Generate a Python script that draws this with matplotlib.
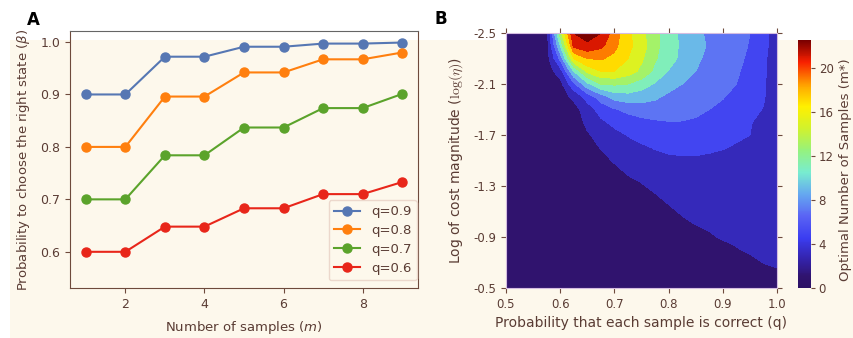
import numpy as np
import matplotlib.pyplot as plt
from matplotlib.colors import LinearSegmentedColormap, Normalize
from matplotlib.cm import ScalarMappable
from matplotlib.patches import Rectangle

plt.rcParams['font.family'] = 'DejaVu Sans'
plt.rcParams['axes.unicode_minus'] = False

TXT = '#5a3c34'
SPINE = '#6e4a3c'
CREAM = '#fdf8ec'

# ---- panel A data ----
samples = [1, 2, 3, 4, 5, 6, 7, 8, 9]
beta_q09 = [0.900, 0.900, 0.972, 0.972, 0.991, 0.991, 0.997, 0.997, 0.999]
beta_q08 = [0.800, 0.800, 0.896, 0.896, 0.942, 0.942, 0.967, 0.967, 0.980]
beta_q07 = [0.700, 0.700, 0.784, 0.784, 0.837, 0.837, 0.874, 0.874, 0.901]
beta_q06 = [0.600, 0.600, 0.648, 0.648, 0.683, 0.683, 0.710, 0.710, 0.733]
series_labels = ['q=0.9', 'q=0.8', 'q=0.7', 'q=0.6']
series_colors = ['#5677b3', '#ff7f0e', '#5ba32b', '#e8261a']

# ---- panel B data (optimal number of samples) ----
q_vals = [0.5, 0.525, 0.55, 0.575, 0.6, 0.625, 0.65, 0.675, 0.7, 0.725, 0.75,
          0.775, 0.8, 0.825, 0.85, 0.875, 0.9, 0.925, 0.95, 0.975, 1.0]
log_eta = [-2.5, -2.4, -2.3, -2.2, -2.1, -2.0, -1.9, -1.8, -1.7, -1.6, -1.5,
           -1.4, -1.3, -1.2, -1.1, -1.0, -0.9, -0.8, -0.7, -0.6, -0.5]
m_opt = [
    [1, 1, 1, 1, 13, 22, 23, 22, 19, 16.5, 14.5, 12.5, 11, 9.5, 8.5, 7.6, 6.8, 6.4, 6.0, 4.8, 2.5],
    [1, 1, 1, 1, 10, 20.5, 21.5, 20.5, 18.5, 16.5, 15, 12.5, 11, 9.6, 8.6, 7.8, 7, 6.5, 5.9, 4.8, 2.5],
    [1, 1, 1, 1, 6.5, 16, 18, 18.2, 17.5, 16, 14.3, 12.2, 10.8, 9.5, 8.3, 7.6, 7, 6.4, 5.7, 4.5, 2.5],
    [1, 1, 1, 1, 3, 10, 14.5, 16, 16, 15, 13.5, 11.5, 9.9, 8.9, 8, 7.4, 6.8, 6.2, 5.5, 4.4, 2.5],
    [1, 1, 1, 1, 1.3, 5.5, 9.5, 12, 12.3, 12, 11, 9.8, 8.8, 8.0, 7.4, 6.9, 6.5, 6, 5.4, 4.3, 2.5],
    [1, 1, 1, 1, 1, 2.5, 4.8, 7, 8.8, 9.2, 8.9, 8.3, 7.6, 7.2, 6.8, 6.5, 6.1, 5.5, 5, 4.2, 2.5],
    [1, 1, 1, 1, 1, 1.2, 3, 4.8, 5.8, 6.5, 7, 7.2, 7.1, 6.9, 6.5, 6, 5.6, 5.1, 4.6, 3.9, 2.5],
    [1, 1, 1, 1, 1, 1, 2.4, 3.6, 4.5, 5, 5.4, 5.7, 5.9, 5.9, 5.7, 5.3, 5, 4.6, 4.1, 3.5, 2.5],
    [1, 1, 1, 1, 1, 1, 1.8, 2.6, 3.4, 4.1, 4.6, 4.9, 5.1, 5.2, 5.1, 4.9, 4.6, 4.3, 4, 3.2, 2.5],
    [1, 1, 1, 1, 1, 1, 1, 2.1, 2.7, 3.2, 3.7, 4.1, 4.4, 4.5, 4.5, 4.3, 4.1, 3.8, 3.4, 3, 2.5],
    [1, 1, 1, 1, 1, 1, 1, 1, 2.3, 2.8, 3.2, 3.4, 3.6, 3.7, 3.7, 3.6, 3.4, 3.2, 3, 2.7, 2.5],
    [1, 1, 1, 1, 1, 1, 1, 1, 1, 2.2, 2.6, 2.9, 3.1, 3.2, 3.2, 3.2, 3.1, 3, 2.9, 2.7, 2.5],
    [1, 1, 1, 1, 1, 1, 1, 1, 1, 1, 1.8, 2.5, 2.8, 3, 3, 3, 2.9, 2.9, 2.8, 2.7, 2.5],
    [1, 1, 1, 1, 1, 1, 1, 1, 1, 1, 1, 1.6, 2.4, 2.7, 2.9, 2.9, 2.9, 2.9, 2.8, 2.7, 2.5],
    [1, 1, 1, 1, 1, 1, 1, 1, 1, 1, 1, 1, 1.5, 2.3, 2.6, 2.8, 2.8, 2.8, 2.7, 2.6, 2.5],
    [1, 1, 1, 1, 1, 1, 1, 1, 1, 1, 1, 1, 1, 1.4, 2.05, 2.5, 2.7, 2.7, 2.7, 2.6, 2.5],
    [1, 1, 1, 1, 1, 1, 1, 1, 1, 1, 1, 1, 1, 1, 1, 1.6, 2.3, 2.6, 2.6, 2.6, 2.5],
    [1, 1, 1, 1, 1, 1, 1, 1, 1, 1, 1, 1, 1, 1, 1, 1, 1, 1.8, 2.4, 2.5, 2.4],
    [1, 1, 1, 1, 1, 1, 1, 1, 1, 1, 1, 1, 1, 1, 1, 1, 1, 1, 1.2, 2.05, 2.3],
    [1, 1, 1, 1, 1, 1, 1, 1, 1, 1, 1, 1, 1, 1, 1, 1, 1, 1, 1, 1.2, 1.6],
    [1, 1, 1, 1, 1, 1, 1, 1, 1, 1, 1, 1, 1, 1, 1, 1, 1, 1, 1, 1, 1],
]
cbar_ticks = [0, 4, 8, 12, 16, 20]

# colour map picked from the colour bar of the original
vmax = 22.5
stops = [(0, '#2c1165'), (1, '#30136e'), (2.5, '#3322a8'), (4.5, '#3b3cf0'),
         (6.5, '#5a64f4'), (8.5, '#65a8f0'), (10.5, '#78ecd0'), (12.5, '#96f27c'),
         (14.5, '#d2f22c'), (16.5, '#fff000'), (18.5, '#ffa000'), (20.5, '#f82000'),
         (22.5, '#7a0000')]
cmap = LinearSegmentedColormap.from_list('samples', [(v / vmax, c) for v, c in stops])
norm = Normalize(0, vmax)

fig = plt.figure(figsize=(8.54, 3.38), dpi=100)
fig.patch.set_facecolor('white')
fig.patches.append(Rectangle((10 / 854, 0), 1, (338 - 40) / 338, transform=fig.transFigure,
                             facecolor=CREAM, edgecolor='none', zorder=-10))

# ---------------- panel A ----------------
axA = fig.add_axes([70 / 854, 50 / 338, 348 / 854, 257 / 338])
axA.set_facecolor('none')
for vals, lab, col in zip([beta_q09, beta_q08, beta_q07, beta_q06], series_labels, series_colors):
    axA.plot(samples, vals, '-o', color=col, lw=1.5, ms=6.5, label=lab)
axA.set_xlim(0.6, 9.4)
axA.set_ylim(0.531, 1.021)
axA.set_xticks([2, 4, 6, 8])
axA.set_yticks([0.6, 0.7, 0.8, 0.9, 1.0])
axA.tick_params(colors=SPINE, labelcolor=TXT, labelsize=9, length=3.5)
for s in axA.spines.values():
    s.set_color(SPINE)
axA.spines['top'].set_color('#666666')
axA.set_xlabel('Number of samples ($m$)', color=TXT, fontsize=9.5, labelpad=6)
axA.set_ylabel(r'Probability to choose the right state ($\beta$)', color=TXT, fontsize=9.5, labelpad=6)
leg = axA.legend(loc='lower right', bbox_to_anchor=(1.0, 0.025), borderaxespad=0.1,
                 fontsize=9.5, facecolor=CREAM, edgecolor='#ecd8cc', framealpha=1,
                 labelspacing=0.45, handletextpad=0.8)
for t in leg.get_texts():
    t.set_color(TXT)
fig.text(27 / 854, 1 - 20 / 338, 'A', fontsize=12, fontweight='bold', va='center')

# ---------------- panel B ----------------
axB = fig.add_axes([506 / 854, 50 / 338, 271 / 854, 255 / 338])
axB.contourf(q_vals, log_eta, np.array(m_opt), levels=list(range(0, 26, 2)), cmap=cmap, norm=norm)
axB.set_xlim(0.5, 1.0)
axB.set_ylim(-0.5, -2.5)
axB.set_xticks([0.5, 0.6, 0.7, 0.8, 0.9, 1.0])
axB.set_xticklabels(['0.5', '0.6', '0.7', '0.8', '0.9', '1.0'])
axB.set_yticks([-2.5, -2.1, -1.7, -1.3, -0.9, -0.5])
axB.set_yticklabels(['-2.5', '-2.1', '-1.7', '-1.3', '-0.9', '-0.5'])
axB.tick_params(colors=SPINE, labelcolor=TXT, labelsize=8.5, length=3.5,
                top=True, right=True)
for s in axB.spines.values():
    s.set_color('#d4bce0')
    s.set_linewidth(0.8)
axB.set_xlabel('Probability that each sample is correct (q)', color=TXT, fontsize=10, labelpad=4)
axB.set_ylabel(r'Log of cost magnitude ($\log(\eta)$)', color=TXT, fontsize=10,
               labelpad=6, math_fontfamily='cm')
fig.text(435 / 854, 1 - 19 / 338, 'B', fontsize=12, fontweight='bold', va='center')

cax = fig.add_axes([798 / 854, 50 / 338, 13 / 854, 248 / 338])
cb = fig.colorbar(ScalarMappable(norm=norm, cmap=cmap), cax=cax, ticks=cbar_ticks)
cb.outline.set_visible(False)
cb.ax.tick_params(colors=SPINE, labelcolor=TXT, labelsize=8.5, length=3, pad=2.5)
fig.text(852 / 854, 1 - 170 / 338, 'Optimal Number of Samples (m*)', rotation=90,
         ha='right', va='center', color=TXT, fontsize=9.5)

fig.savefig('out.png', dpi=100, facecolor=fig.get_facecolor())
